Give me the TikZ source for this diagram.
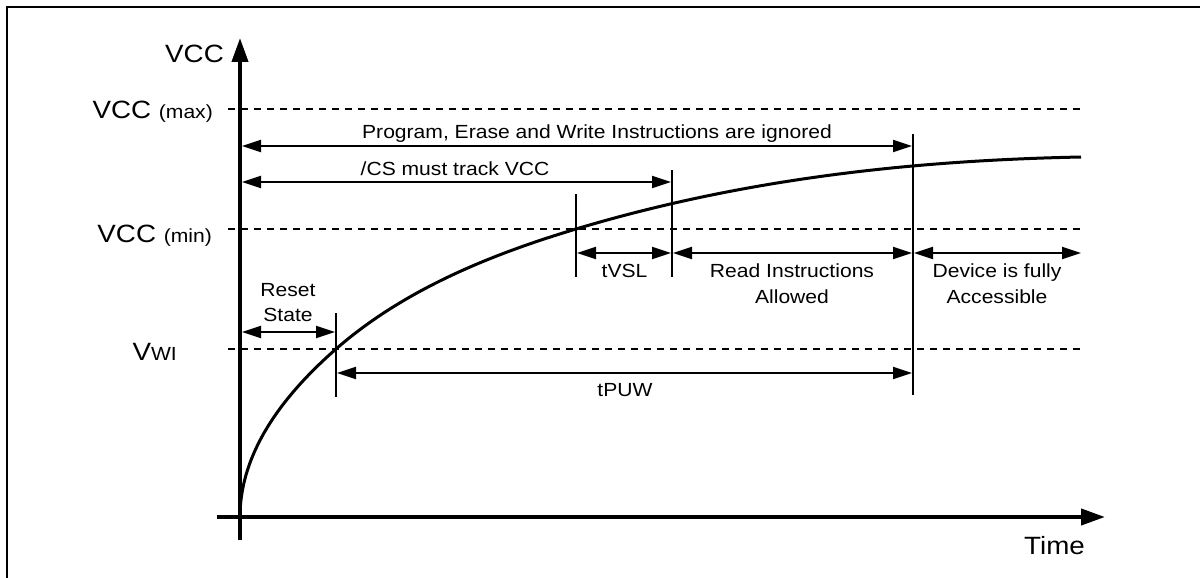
\documentclass[tikz,border=0pt]{standalone}
\usepackage{fontspec}
\setmainfont{Liberation Sans}[FakeStretch=1.11]
\usetikzlibrary{arrows.meta}
\newcommand{\bigtxt}{\fontsize{25}{30}\selectfont}
\newcommand{\smalltxt}{\fontsize{19}{23}\selectfont}
\begin{document}
\begin{tikzpicture}[x=1pt,y=-1pt,
  frameline/.style={line width=2.5pt},
  axisline/.style={line width=4pt,-{Triangle[length=24pt,width=16pt]}},
  levelline/.style={line width=1.7pt,dash pattern=on 7pt off 6pt},
  tickline/.style={line width=2pt},
  spanarrow/.style={line width=2pt,{Triangle[length=19pt,width=12pt]}-{Triangle[length=19pt,width=12pt]}},
  curveline/.style={line width=3pt,line join=round},
  biglabel/.style={inner sep=0pt,font=\bigtxt},
  smalllabel/.style={inner sep=0pt,font=\smalltxt,align=center},
]
\useasboundingbox (0,0) rectangle (1200,578);
% frame
\coordinate (fb) at (7,578);
\coordinate (fc) at (7,7);
\coordinate (fr) at (1200,7);
\draw[frameline] (fb) -- (fc) -- (fr);
% axes
\coordinate (yb) at (240,540);
\coordinate (yt) at (240,38);
\coordinate (xl) at (217,517);
\coordinate (xr) at (1105,517);
\draw[axisline] (yb) -- (yt);
\draw[axisline] (xl) -- (xr);
% level lines
\coordinate (maxl) at (228,109); \coordinate (maxr) at (1082,109);
\coordinate (minl) at (228,229); \coordinate (minr) at (1082,229);
\coordinate (vwil) at (228,349); \coordinate (vwir) at (1082,349);
\draw[levelline] (maxl) -- (maxr);
\draw[levelline] (minl) -- (minr);
\draw[levelline] (vwil) -- (vwir);
% labels
\node[biglabel,anchor=base east] (vcc) at (224,63) {VCC};
\node[biglabel,anchor=base east] (vccmax) at (213,118) {VCC {\smalltxt(max)}};
\node[biglabel,anchor=base east] (vccmin) at (212,242) {VCC {\smalltxt(min)}};
\node[biglabel,anchor=base east] (vwi) at (177,360) {V{\smalltxt WI}};
\node[biglabel,anchor=base east] (time) at (1085,554) {Time};
% curve
\coordinate (c0) at (240,517);
\coordinate (c1) at (336,349);
\coordinate (c2) at (576,229);
\coordinate (c3) at (1081,157);
\draw[curveline] (c0) .. controls (240,461) and (272,405) .. (c1)
  .. controls (406,287.75) and (496,253) .. (c2)
  .. controls (744,178.6) and (913,160.4) .. (c3);
% tick lines
\coordinate (t1a) at (336,313); \coordinate (t1b) at (336,397);
\coordinate (t2a) at (576,194); \coordinate (t2b) at (576,277);
\coordinate (t3a) at (672,170); \coordinate (t3b) at (672,277);
\coordinate (t4a) at (913,134); \coordinate (t4b) at (913,395);
\draw[tickline] (t1a) -- (t1b);
\draw[tickline] (t2a) -- (t2b);
\draw[tickline] (t3a) -- (t3b);
\draw[tickline] (t4a) -- (t4b);
% spans
\coordinate (pa) at (242,146); \coordinate (pb) at (912,146);
\coordinate (ca) at (242,182); \coordinate (cb) at (671,182);
\coordinate (ra) at (242,332); \coordinate (rb) at (335,332);
\coordinate (va) at (577,253); \coordinate (vb) at (671,253);
\coordinate (ia) at (673,253); \coordinate (ib) at (912,253);
\coordinate (da) at (914,253); \coordinate (db) at (1081,253);
\coordinate (wa) at (337,373); \coordinate (wb) at (912,373);
\draw[spanarrow] (pa) -- (pb);
\draw[spanarrow] (ca) -- (cb);
\draw[spanarrow] (ra) -- (rb);
\draw[spanarrow] (va) -- (vb);
\draw[spanarrow] (ia) -- (ib);
\draw[spanarrow] (da) -- (db);
\draw[spanarrow] (wa) -- (wb);
% span texts
\node[smalllabel,anchor=base] (prog) at (597,139) {Program, Erase and Write Instructions are ignored};
\node[smalllabel,anchor=base] (cs) at (455,175) {/CS must track VCC};
\node[smalllabel,anchor=base] (tvsl) at (624.5,277) {tVSL};
\node[smalllabel,anchor=base] (read1) at (792,277) {Read Instructions};
\node[smalllabel,anchor=base] (read2) at (792,303) {Allowed};
\node[smalllabel,anchor=base] (dev1) at (997,277) {Device is fully};
\node[smalllabel,anchor=base] (dev2) at (997,303) {Accessible};
\node[smalllabel,anchor=base] (reset1) at (288,296) {Reset};
\node[smalllabel,anchor=base] (reset2) at (288,321) {State};
\node[smalllabel,anchor=base] (tpuw) at (625,396) {tPUW};
\end{tikzpicture}
\end{document}
